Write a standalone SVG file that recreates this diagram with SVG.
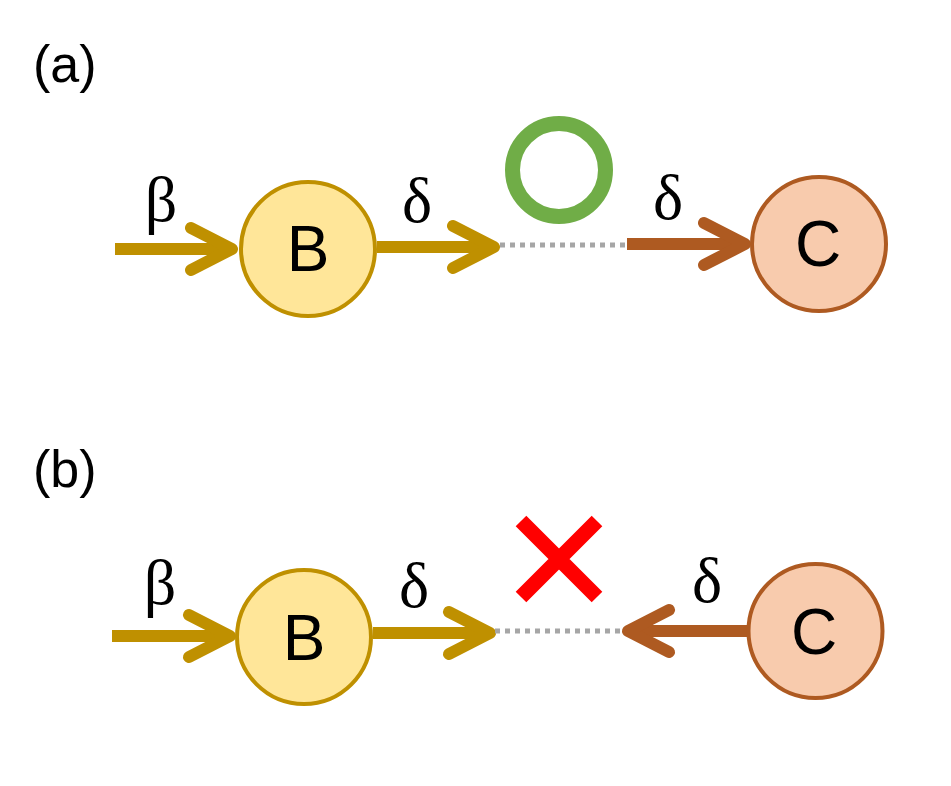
<svg xmlns="http://www.w3.org/2000/svg" width="951" height="786" viewBox="0 0 951 786">
  <style>
    .lbl { font-family: "Liberation Sans", Arial, sans-serif; font-size: 52px; fill: #000; }
    .node-text { font-family: "Liberation Sans", Arial, sans-serif; font-size: 64px; fill: #000; text-anchor: middle; }
    .greek { font-family: "Liberation Serif", "Times New Roman", serif; font-size: 64px; fill: #000; text-anchor: middle; }
    .nodeB { fill: #FFE699; stroke: #BF9000; stroke-width: 4; }
    .nodeC { fill: #F8CBAD; stroke: #AE5A21; stroke-width: 4; }
    .arr { fill: none; stroke-width: 12; stroke-linecap: round; stroke-linejoin: round; }
    .gold { stroke: #BF9000; }
    .brown { stroke: #AE5A21; }
    .shaft { fill: none; stroke-width: 12; stroke-linecap: butt; }
    .dots { fill: none; stroke: #A6A6A6; stroke-width: 5; stroke-dasharray: 5 5; }
  </style>

  <text class="lbl" x="33" y="82">(a)</text>
  <text class="lbl" x="33" y="487">(b)</text>

  <g id="connectors">
    <!-- (a) -->
    <g id="a-beta">
      <path class="shaft gold" d="M115,249 H232"/>
      <path class="arr gold" d="M191,228 L232,249 L191,270"/>
    </g>
    <g id="a-delta-B">
      <path class="shaft gold" d="M377,247 H494"/>
      <path class="arr gold" d="M453,226 L494,247 L453,268"/>
    </g>
    <path id="a-dots" class="dots" d="M500,245 H627"/>
    <g id="a-delta-C">
      <path class="shaft brown" d="M627,244 H745"/>
      <path class="arr brown" d="M704,223 L745,244 L704,265"/>
    </g>
    <!-- (b) -->
    <g id="b-beta">
      <path class="shaft gold" d="M112,636 H230"/>
      <path class="arr gold" d="M189,615 L230,636 L189,657"/>
    </g>
    <g id="b-delta-B">
      <path class="shaft gold" d="M373,633 H490"/>
      <path class="arr gold" d="M449,612 L490,633 L449,654"/>
    </g>
    <path id="b-dots" class="dots" d="M495,631 H623"/>
    <g id="b-delta-C">
      <path class="shaft brown" d="M748,631 H628"/>
      <path class="arr brown" d="M669,610 L628,631 L669,652"/>
    </g>
  </g>

  <g id="a-labels">
    <text class="greek" x="161" y="221">β</text>
    <text class="greek" x="417" y="222">δ</text>
    <text class="greek" x="668" y="219">δ</text>
  </g>
  <g id="b-labels">
    <text class="greek" x="160" y="604">β</text>
    <text class="greek" x="414" y="607">δ</text>
    <text class="greek" x="707" y="602">δ</text>
  </g>

  <g id="a-ok">
    <circle cx="559" cy="170" r="46.5" fill="none" stroke="#70AD47" stroke-width="15"/>
  </g>
  <g id="b-ng">
    <path d="M521,521 L597,597 M597,521 L521,597" fill="none" stroke="#FF0000" stroke-width="15"/>
  </g>

  <g id="node-a-B">
    <circle class="nodeB" cx="308" cy="249" r="67"/>
    <text class="node-text" x="308" y="271">B</text>
  </g>
  <g id="node-a-C">
    <circle class="nodeC" cx="819" cy="244" r="67"/>
    <text class="node-text" x="818" y="266">C</text>
  </g>
  <g id="node-b-B">
    <circle class="nodeB" cx="304" cy="637" r="67"/>
    <text class="node-text" x="304" y="660">B</text>
  </g>
  <g id="node-b-C">
    <circle class="nodeC" cx="815.5" cy="631" r="67"/>
    <text class="node-text" x="814" y="654">C</text>
  </g>
</svg>
